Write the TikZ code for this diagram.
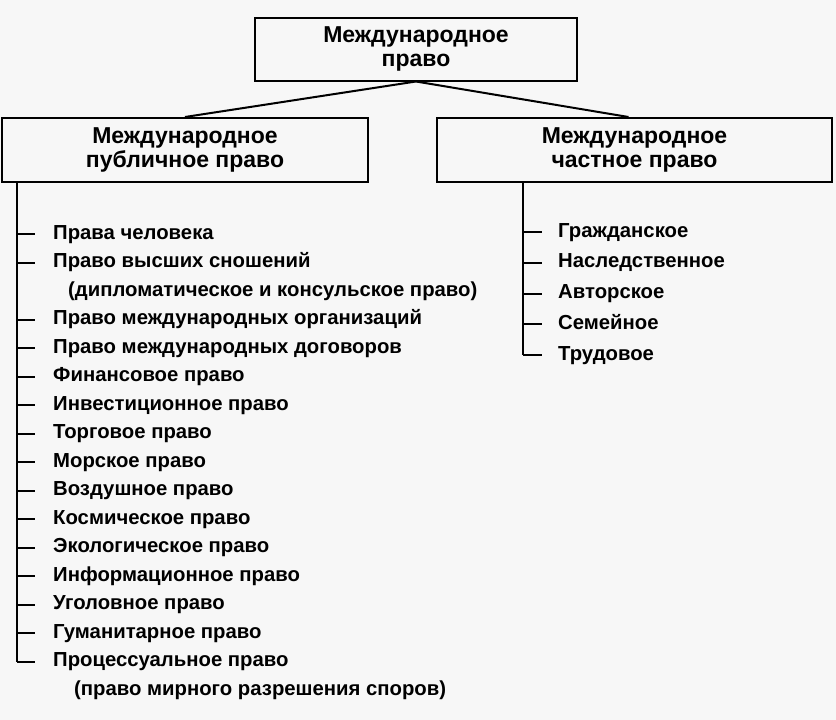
\documentclass[tikz,border=0pt]{standalone}
\usepackage{fontspec}
\setmainfont{Liberation Sans}
\usetikzlibrary{positioning,calc}

\begin{document}
\begin{tikzpicture}[
  x=1pt,y=-1pt,
  font=\fontsize{20.3}{22}\selectfont\bfseries,
  hb/.style={draw=black,line width=2pt,align=center,inner sep=0pt,
             font=\fontsize{23}{23.5}\selectfont\bfseries},
  item/.style={anchor=west,inner xsep=0pt,inner ysep=1pt,
               text height=15pt,text depth=5pt},
  ln/.style={line width=2pt,black},
]
% page
\path[fill=black!3] (0,0) rectangle (836,720);

% headers
\node[hb,minimum width=322pt,minimum height=63pt] (top) at (416,49) {Международное\\[1pt]право};
\node[hb,minimum width=366pt,minimum height=64pt] (pub) at (185,150) {Международное\\[1pt]публичное право};
\node[hb,minimum width=395pt,minimum height=64pt] (priv) at (634.5,150) {Международное\\[1pt]частное право};

\draw[ln] (top.south) -- (pub.north);
\draw[ln] (top.south) -- ([xshift=-6pt]priv.north);

\coordinate (tL) at (17,0);
\coordinate (tR) at (523,0);

% public branches
\foreach \k/\t in {0/Права человека,1/Право высших сношений,
    3/Право международных организаций,4/Право международных договоров,
    5/Финансовое право,6/Инвестиционное право,7/Торговое право,
    8/Морское право,9/Воздушное право,10/Космическое право,
    11/Экологическое право,12/Информационное право,13/Уголовное право,
    14/Гуманитарное право,15/Процессуальное право}{
  \node[item] (p\k) at (53,234+28.5*\k) {\t};
  \draw[ln] (tL |- p\k.west) -- ([xshift=-18pt]p\k.west);
}
\node[item] (p2) at (68,291) {(дипломатическое и консульское право)};
\node[item] (p16) at (74,690) {(право мирного разрешения споров)};
\draw[ln] (tL |- pub.south) -- (tL |- p15.west);

% private branches
\foreach \t [count=\k] in {Гражданское,Наследственное,Авторское,Семейное,Трудовое}{
  \node[item] (c\k) at (558,232+30.75*\k-30.75) {\t};
  \draw[ln] (tR |- c\k.west) -- ([xshift=-16pt]c\k.west);
}
\draw[ln] (tR |- priv.south) -- (tR |- c5.west);
\end{tikzpicture}
\end{document}
